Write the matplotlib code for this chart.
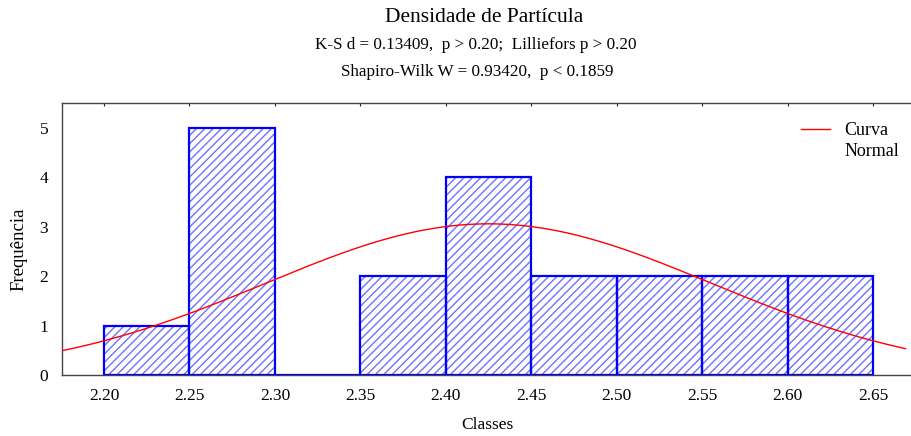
import numpy as np
import matplotlib.pyplot as plt
from matplotlib.lines import Line2D

plt.rcParams["font.family"] = ["Liberation Serif", "DejaVu Serif"]
plt.rcParams["hatch.linewidth"] = 1.0

# classes (left edge of each bin) and frequencies
bin_left = [2.20, 2.25, 2.30, 2.35, 2.40, 2.45, 2.50, 2.55, 2.60]
freq = [1, 5, 0, 2, 4, 2, 2, 2, 2]
bin_width = 0.05
xticks = [2.20, 2.25, 2.30, 2.35, 2.40, 2.45, 2.50, 2.55, 2.60, 2.65]
yticks = [0, 1, 2, 3, 4, 5]

# fitted normal parameters
mu = 2.425
sd = 0.1305
n = sum(freq)

fig = plt.figure(figsize=(9.12, 4.36), dpi=100)
ax = fig.add_axes([62 / 912, 1 - 375 / 436, 850 / 912, 272 / 436])

# hatch fill first, then the solid outline on top
ax.bar(bin_left, freq, width=bin_width, align="edge", color="none",
       edgecolor="#6f6fff", hatch="////", linewidth=0, zorder=2)
ax.bar(bin_left, freq, width=bin_width, align="edge", color="none",
       edgecolor="#0000ff", linewidth=1.6, zorder=3)

xs = np.linspace(2.175, 2.669, 300)
ys = n * bin_width * np.exp(-0.5 * ((xs - mu) / sd) ** 2) / (sd * np.sqrt(2 * np.pi))
curve, = ax.plot(xs, ys, color="#ff0000", linewidth=1.0, zorder=4)

ax.set_xlim(2.1754, 2.6728)
ax.set_ylim(0, 5.5)
ax.set_xticks(xticks)
ax.set_xticklabels([f"{v:.2f}" for v in xticks])
ax.set_yticks(yticks)

for s in ["left", "top", "bottom"]:
    ax.spines[s].set_color("#444444")
    ax.spines[s].set_linewidth(1.0)
ax.spines["right"].set_visible(False)

ax.tick_params(axis="both", labelsize=12.5, length=0, pad=9)
ax.tick_params(axis="y", pad=10)
# small inward marks along the top edge
ax.tick_params(axis="x", which="both", top=True, direction="in", length=2.5, color="#222222")
ax.tick_params(axis="x", bottom=False)

ax.set_xlabel("Classes", fontsize=12.5, labelpad=10)
ax.set_ylabel("Frequência", fontsize=13.5)
ax.yaxis.set_label_coords(-0.041, 0.463)

# two-row label: line sits beside the first row only
blank = Line2D([], [], linestyle="none")
ax.legend([curve, blank], ["Curva", "Normal"], loc="upper right",
          bbox_to_anchor=(1.004, 0.99), frameon=False, fontsize=13,
          handlelength=1.6, handletextpad=0.8, labelspacing=0.25)

fig.text(484 / 912, 1 - 18 / 436, "Densidade de Partícula", ha="center", va="center", fontsize=15.5)
fig.text(476 / 912, 1 - 45 / 436, "K-S d = 0.13409,  p > 0.20;  Lilliefors p > 0.20",
         ha="center", va="center", fontsize=12.3)
fig.text(477 / 912, 1 - 72 / 436, "Shapiro-Wilk W = 0.93420,  p < 0.1859",
         ha="center", va="center", fontsize=12.3)

fig.savefig("out.png", dpi=100)
